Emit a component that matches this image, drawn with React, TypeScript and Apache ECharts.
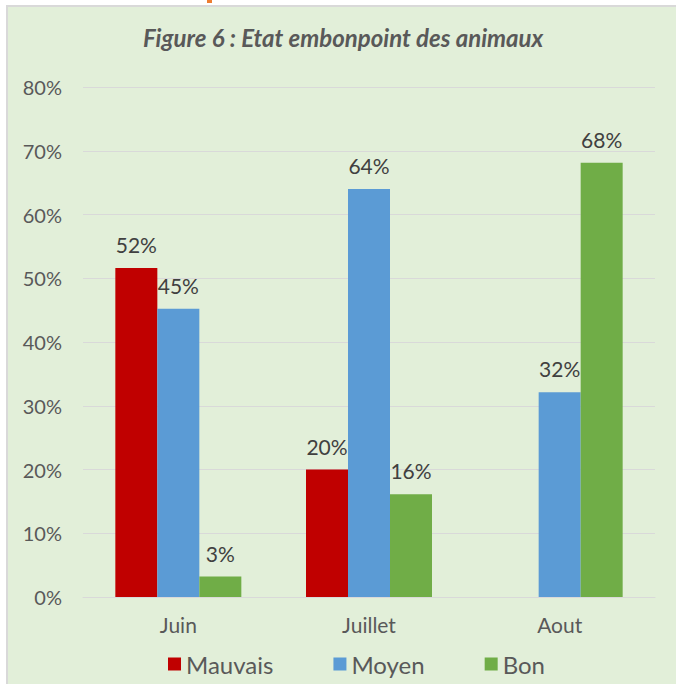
import React, { useEffect, useRef } from "react";
import * as echarts from "echarts";

const categories = ["Juin", "Juillet", "Aout"];
const seriesNames = ["Mauvais", "Moyen", "Bon"];
const mauvais = [51.6, 20.0, 0];
const moyen = [45.2, 64.0, 32.1];
const bon = [3.2, 16.1, 68.1];
const colors = ["#c00000", "#5b9bd5", "#70ad47"];
const titleText = "Figure 6 : Etat embonpoint des animaux";

export default function App() {
  const ref = useRef<HTMLDivElement>(null);
  useEffect(() => {
    if (!ref.current) return;
    const chart = echarts.init(ref.current, undefined, { renderer: "svg" });
    const font = "Lato, 'Noto Sans', sans-serif";
    const values = [mauvais, moyen, bon];
    chart.setOption({
      animation: false,
      backgroundColor: "#e2efd9",
      textStyle: { fontFamily: font },
      title: {
        text: titleText,
        left: 138,
        top: 20,
        textStyle: {
          fontFamily: font,
          fontSize: 24,
          fontWeight: "bold",
          fontStyle: "italic",
          color: "#595959",
        },
      },
      graphic: [
        { type: "rect", shape: { x: 0, y: 0, width: 676, height: 5 }, style: { fill: "#ffffff" }, silent: true },
        { type: "rect", shape: { x: 0, y: 0, width: 6, height: 684 }, style: { fill: "#ffffff" }, silent: true },
        { type: "rect", shape: { x: 6, y: 5, width: 670, height: 2 }, style: { fill: "#d9d9d9" }, silent: true },
        { type: "rect", shape: { x: 6, y: 5, width: 2, height: 679 }, style: { fill: "#d9d9d9" }, silent: true },
        { type: "rect", shape: { x: 207, y: 0, width: 5, height: 3 }, style: { fill: "#ed7d31" }, silent: true },
      ],
      legend: {
        data: seriesNames,
        top: 647,
        left: 163,
        icon: "rect",
        itemWidth: 13,
        itemHeight: 13,
        itemGap: 60,
        textStyle: { fontFamily: font, fontSize: 24, color: "#595959" },
      },
      grid: { left: 83, right: 21, top: 87, bottom: 87, containLabel: false },
      xAxis: {
        type: "category",
        data: categories,
        axisLine: { show: true, lineStyle: { color: "#d9d9d9", width: 1 } },
        axisTick: { show: false },
        axisLabel: { color: "#595959", fontSize: 21, margin: 17, fontFamily: font },
      },
      yAxis: {
        type: "value",
        min: 0,
        max: 80,
        interval: 10,
        axisLine: { show: false },
        axisTick: { show: false },
        splitLine: { lineStyle: { color: "#d9d9d9", width: 1 } },
        axisLabel: { color: "#595959", fontSize: 20, margin: 21, formatter: "{value}%", fontFamily: font },
      },
      series: seriesNames.map((name, i) => ({
        name,
        type: "bar",
        data: values[i],
        barWidth: 42,
        barGap: "0%",
        itemStyle: { color: colors[i] },
        label: {
          show: true,
          position: "top",
          distance: 13,
          fontSize: 21,
          color: "#404040",
          fontFamily: font,
          formatter: (p: any) => (p.value ? Math.round(p.value) + "%" : ""),
        },
      })),
    });
    return () => chart.dispose();
  }, []);
  return (
    <div
      ref={ref}
      style={{ position: "absolute", left: 0, top: 0, width: 676, height: 684 }}
    />
  );
}
